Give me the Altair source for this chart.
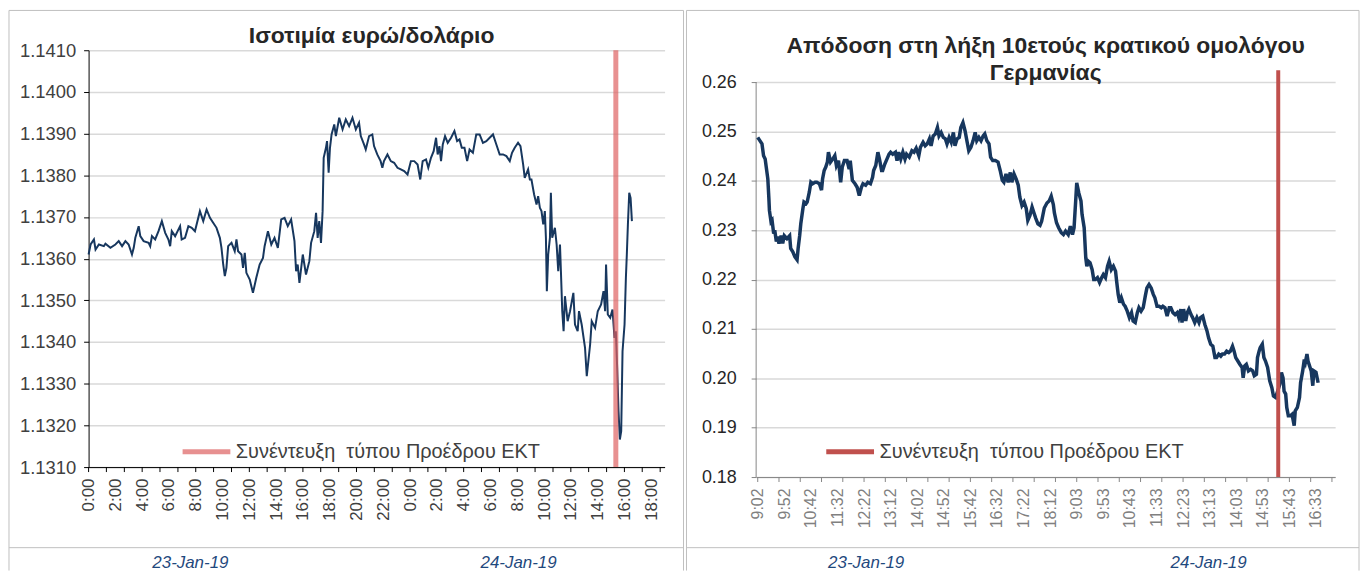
import json
import altair as alt
import pandas as pd

FONT = "Liberation Sans"
NAVY = "#17375e"

# ---------------- texts ----------------
eur_title = "Ισοτιμία ευρώ/δολάριο"
bund_title = ["Απόδοση στη λήξη 10ετούς κρατικού ομολόγου", "Γερμανίας"]
legend_label = "Συνέντευξη\u00a0 τύπου Προέδρου ΕΚΤ"
date_labels = ["23-Jan-19", "24-Jan-19"]

# ---------------- EUR/USD (hours since 23-Jan-19 0:00) ----------------
eur_hours = [
    0.00, 0.15, 0.40, 0.52, 0.77, 1.14, 1.26, 1.63, 2.00, 2.25, 2.50, 2.75, 2.99, 3.24, 3.37, 3.49,
    3.74, 3.86, 4.11, 4.48, 4.60, 4.73, 4.97, 5.22, 5.47, 5.72, 5.96, 6.09, 6.21, 6.46, 6.83, 6.95,
    7.20, 7.45, 7.70, 7.94, 8.31, 8.56, 8.81, 9.06, 9.30, 9.55, 9.80, 9.92, 10.05, 10.17, 10.29, 10.42,
    10.67, 10.91, 11.04, 11.16, 11.41, 11.53, 11.66, 11.78, 12.03, 12.27, 12.52, 12.77, 13.02, 13.14,
    13.39, 13.64, 13.88, 14.13, 14.38, 14.63, 14.87, 15.12, 15.37, 15.49, 15.61, 15.74, 15.99, 16.23,
    16.48, 16.61, 16.85, 16.98, 17.10, 17.22, 17.35, 17.47, 17.55, 17.72, 17.80, 17.92, 18.02, 18.14,
    18.34, 18.46, 18.71, 18.96, 19.20, 19.45, 19.70, 19.95, 20.19, 20.32, 20.56, 20.69, 20.94, 21.18,
    21.31, 21.55, 21.80, 21.93, 22.05, 22.31, 22.56, 22.81, 23.06, 23.31, 23.56, 23.81, 24.06, 24.31,
    24.56, 24.76, 24.94, 25.19, 25.36, 25.56, 25.76, 25.94, 26.06, 26.19, 26.31, 26.44, 26.61, 26.81,
    27.06, 27.31, 27.51, 27.69, 27.86, 28.06, 28.26, 28.44, 28.69, 28.94, 29.19, 29.44, 29.69, 29.94,
    30.19, 30.44, 30.69, 30.94, 31.19, 31.44, 31.61, 31.81, 32.06, 32.24, 32.44, 32.56, 32.81, 32.94,
    33.06, 33.26, 33.44, 33.56, 33.69, 33.81, 33.94, 34.06, 34.14, 34.21, 34.31, 34.44, 34.51, 34.61,
    34.81, 34.94, 35.06, 35.19, 35.26, 35.36, 35.46, 35.56, 35.76, 35.94, 36.19, 36.31, 36.51, 36.61,
    36.81, 37.06, 37.19, 37.44, 37.56, 37.81, 38.01, 38.26, 38.44, 38.56, 38.63, 38.76, 38.94, 39.11,
    39.26, 39.36, 39.46, 39.56, 39.66, 39.76, 39.86, 40.01, 40.11, 40.18, 40.26, 40.36, 40.46, 40.56,
]
eur_values = [
    1.13610, 1.13634, 1.13646, 1.13622, 1.13634, 1.13630, 1.13636, 1.13626, 1.13634, 1.13642, 1.13630,
    1.13642, 1.13634, 1.13610, 1.13626, 1.13650, 1.13678, 1.13654, 1.13642, 1.13638, 1.13630, 1.13654,
    1.13646, 1.13666, 1.13690, 1.13662, 1.13646, 1.13630, 1.13666, 1.13654, 1.13678, 1.13646, 1.13650,
    1.13678, 1.13674, 1.13666, 1.13714, 1.13690, 1.13718, 1.13698, 1.13686, 1.13674, 1.13650, 1.13626,
    1.13586, 1.13558, 1.13578, 1.13630, 1.13638, 1.13618, 1.13646, 1.13618, 1.13610, 1.13578, 1.13614,
    1.13566, 1.13550, 1.13518, 1.13554, 1.13586, 1.13602, 1.13630, 1.13666, 1.13634, 1.13650, 1.13626,
    1.13694, 1.13698, 1.13678, 1.13694, 1.13642, 1.13570, 1.13586, 1.13542, 1.13610, 1.13562, 1.13594,
    1.13638, 1.13666, 1.13710, 1.13650, 1.13690, 1.13638, 1.13714, 1.13842, 1.13866, 1.13882, 1.13806,
    1.13866, 1.13898, 1.13922, 1.13894, 1.13938, 1.13910, 1.13934, 1.13918, 1.13938, 1.13910, 1.13926,
    1.13894, 1.13874, 1.13862, 1.13894, 1.13898, 1.13870, 1.13850, 1.13834, 1.13818, 1.13834, 1.13850,
    1.13834, 1.13830, 1.13818, 1.13814, 1.13810, 1.13802, 1.13834, 1.13834, 1.13826, 1.13790, 1.13834,
    1.13838, 1.13818, 1.13842, 1.13858, 1.13890, 1.13850, 1.13870, 1.13834, 1.13874, 1.13894, 1.13878,
    1.13890, 1.13906, 1.13882, 1.13886, 1.13866, 1.13866, 1.13834, 1.13862, 1.13854, 1.13898, 1.13898,
    1.13878, 1.13882, 1.13890, 1.13898, 1.13874, 1.13850, 1.13850, 1.13846, 1.13834, 1.13854, 1.13866,
    1.13878, 1.13870, 1.13826, 1.13794, 1.13814, 1.13790, 1.13790, 1.13754, 1.13730, 1.13750, 1.13722,
    1.13714, 1.13682, 1.13714, 1.13650, 1.13522, 1.13610, 1.13650, 1.13758, 1.13650, 1.13674, 1.13634,
    1.13570, 1.13634, 1.13570, 1.13474, 1.13426, 1.13510, 1.13450, 1.13474, 1.13518, 1.13442, 1.13426,
    1.13474, 1.13442, 1.13386, 1.13318, 1.13394, 1.13450, 1.13434, 1.13474, 1.13490, 1.13522, 1.13474,
    1.13586, 1.13466, 1.13458, 1.13478, 1.13410, 1.13426, 1.13338, 1.13234, 1.13166, 1.13186, 1.13378,
    1.13442, 1.13554, 1.13610, 1.13682, 1.13758, 1.13746, 1.13690,
]
eur_x_domain = [0, 43]
eur_label_hours = [0, 2, 4, 6, 8, 10, 12, 14, 16, 18, 20, 22, 24, 26, 28, 30, 32, 34, 36, 38, 40, 42]
eur_tick_labels = ["0:00", "2:00", "4:00", "6:00", "8:00", "10:00", "12:00", "14:00", "16:00", "18:00",
                   "20:00", "22:00", "0:00", "2:00", "4:00", "6:00", "8:00", "10:00", "12:00", "14:00",
                   "16:00", "18:00"]
eur_tick_marks = [0, 1.33, 2.67, 4, 5.33, 6.67, 8, 9.33, 10.67, 12, 13.33, 14.67, 16, 17.33, 18.67,
                  20, 21.33, 22.67, 24, 25.33, 26.67, 28, 29.33, 30.67, 32, 33.33, 34.67, 36, 37.33,
                  38.67, 40, 41.33, 42.67]
eur_y_domain = [1.1310, 1.1410]
eur_y_ticks = [1.1310, 1.1320, 1.1330, 1.1340, 1.1350, 1.1360, 1.1370, 1.1380, 1.1390, 1.1400, 1.1410]
eur_ecb_hour = [39.36]
eur_date_pos = [7.6, 32.1]

# ---------------- Bund 10y yield (index of intraday observations) ----------------
bund_index = [
    0, 8, 11, 14, 16, 19, 21, 22, 25, 27, 30, 32, 35, 37, 40, 44, 47, 50, 55, 60, 62, 66, 70, 74, 76, 79,
    81, 85, 87, 91, 93, 97, 100, 103, 108, 111, 116, 120, 122, 125, 128, 131, 133, 137, 141, 145, 148,
    152, 156, 159, 163, 168, 172, 174, 178, 183, 187, 191, 195, 198, 203, 207, 212, 216, 218, 222, 226,
    229, 233, 235, 239, 243, 247, 250, 254, 259, 262, 265, 269, 273, 277, 280, 285, 290, 294, 298, 303,
    306, 311, 315, 319, 323, 326, 330, 334, 338, 341, 345, 349, 353, 356, 360, 364, 368, 371, 375, 379,
    382, 386, 390, 394, 397, 401, 405, 409, 412, 416, 420, 424, 427, 431, 435, 438, 442, 447, 452, 456,
    460, 463, 467, 471, 475, 478, 482, 486, 490, 493, 497, 501, 505, 508, 512, 516, 519, 523, 527, 531,
    534, 539, 544, 548, 552, 556, 558, 562, 566, 571, 575, 579, 584, 588, 592, 595, 598, 600, 604, 608,
    610, 614, 617, 619, 622, 625, 629, 632, 635, 639, 643, 647, 650, 654, 658, 661, 665, 669, 673, 675,
    678, 681, 684, 688, 691, 695, 699, 703, 706, 710, 714, 717, 721, 725, 729, 732, 736, 740, 744, 747,
    751, 755, 759, 762, 766, 770, 774, 777, 781, 785, 789, 792, 796, 798, 801, 805, 808, 811, 815, 818,
    822, 826, 830, 833, 837, 841, 845, 848, 852, 856, 860, 863, 867, 871, 874, 878, 882, 886, 889, 893,
    896, 899, 903, 907, 911, 913, 916, 919, 923, 927, 931, 934, 938, 940, 943, 945, 949, 952, 955, 959,
    963, 967, 970, 974, 978, 982, 985, 988, 990, 993, 995, 998, 1002, 1005, 1009, 1011, 1015, 1019,
    1021, 1025, 1028, 1030, 1033, 1035, 1038, 1041, 1044, 1046, 1050, 1054,
]
bund_values = [
    0.2488, 0.2475, 0.2451, 0.2444, 0.2428, 0.2404, 0.2364, 0.2340, 0.2317, 0.2320, 0.2293, 0.2300,
    0.2277, 0.2287, 0.2273, 0.2289, 0.2273, 0.2289, 0.2283, 0.2289, 0.2263, 0.2256, 0.2246, 0.2240,
    0.2263, 0.2290, 0.2313, 0.2344, 0.2357, 0.2354, 0.2357, 0.2377, 0.2397, 0.2394, 0.2397, 0.2397,
    0.2394, 0.2381, 0.2404, 0.2421, 0.2428, 0.2438, 0.2458, 0.2438, 0.2444, 0.2451, 0.2431, 0.2441,
    0.2397, 0.2428, 0.2441, 0.2441, 0.2424, 0.2441, 0.2401, 0.2394, 0.2387, 0.2370, 0.2387, 0.2394,
    0.2391, 0.2397, 0.2394, 0.2407, 0.2421, 0.2431, 0.2458, 0.2444, 0.2421, 0.2421, 0.2434, 0.2444,
    0.2454, 0.2458, 0.2454, 0.2458, 0.2441, 0.2458, 0.2444, 0.2458, 0.2444, 0.2454, 0.2448, 0.2461,
    0.2458, 0.2466, 0.2451, 0.2468, 0.2478, 0.2471, 0.2475, 0.2485, 0.2471, 0.2491, 0.2495, 0.2508,
    0.2491, 0.2498, 0.2488, 0.2485, 0.2475, 0.2488, 0.2478, 0.2498, 0.2471, 0.2485, 0.2488, 0.2508,
    0.2518, 0.2501, 0.2478, 0.2461, 0.2468, 0.2481, 0.2498, 0.2481, 0.2488, 0.2481, 0.2491, 0.2495,
    0.2481, 0.2475, 0.2448, 0.2441, 0.2441, 0.2438, 0.2421, 0.2401, 0.2397, 0.2414, 0.2397, 0.2417,
    0.2397, 0.2414, 0.2404, 0.2391, 0.2367, 0.2350, 0.2357, 0.2344, 0.2320, 0.2330, 0.2347, 0.2337,
    0.2324, 0.2313, 0.2310, 0.2318, 0.2345, 0.2355, 0.2359, 0.2369, 0.2352, 0.2335, 0.2315, 0.2305,
    0.2295, 0.2291, 0.2298, 0.2291, 0.2308, 0.2291, 0.2305, 0.2359, 0.2396, 0.2375, 0.2359, 0.2332,
    0.2305, 0.2244, 0.2227, 0.2237, 0.2234, 0.2220, 0.2200, 0.2200, 0.2204, 0.2194, 0.2204, 0.2210,
    0.2204, 0.2227, 0.2237, 0.2220, 0.2227, 0.2217, 0.2197, 0.2170, 0.2153, 0.2163, 0.2150, 0.2146,
    0.2136, 0.2123, 0.2133, 0.2116, 0.2113, 0.2133, 0.2143, 0.2136, 0.2143, 0.2167, 0.2183, 0.2190,
    0.2183, 0.2170, 0.2163, 0.2146, 0.2146, 0.2143, 0.2146, 0.2143, 0.2126, 0.2143, 0.2143, 0.2133,
    0.2129, 0.2133, 0.2123, 0.2140, 0.2113, 0.2140, 0.2116, 0.2133, 0.2140, 0.2129, 0.2123, 0.2113,
    0.2123, 0.2113, 0.2123, 0.2126, 0.2109, 0.2096, 0.2082, 0.2069, 0.2065, 0.2042, 0.2042, 0.2049,
    0.2045, 0.2049, 0.2049, 0.2055, 0.2052, 0.2055, 0.2065, 0.2055, 0.2042, 0.2035, 0.2028, 0.2022,
    0.2001, 0.2025, 0.2028, 0.2015, 0.2018, 0.2015, 0.2005, 0.2008, 0.2042, 0.2055, 0.2062, 0.2069,
    0.2042, 0.2035, 0.2022, 0.1995, 0.1981, 0.1964, 0.1961, 0.1974, 0.1988, 0.2012, 0.2001, 0.1974,
    0.1968, 0.1941, 0.1924, 0.1924, 0.1927, 0.1904, 0.1934, 0.1941, 0.1961, 0.1991, 0.2015, 0.2038,
    0.2032, 0.2049, 0.2035, 0.2025, 0.2015, 0.1985, 0.2015, 0.2012, 0.1991,
]
bund_x_domain = [-3, 1086]
bund_label_index = [0, 50, 100, 150, 200, 250, 300, 350, 400, 450, 500, 550, 600, 650, 700, 750, 800,
                    850, 900, 950, 1000, 1050]
bund_tick_labels = ["9:02", "9:52", "10:42", "11:32", "12:22", "13:12", "14:02", "14:52", "15:42",
                    "16:32", "17:22", "18:12", "9:03", "9:53", "10:43", "11:33", "12:23", "13:13",
                    "14:03", "14:53", "15:43", "16:33"]
bund_tick_marks = [0, 40, 80, 120, 160, 200, 240, 280, 320, 360, 400, 440, 480, 520, 560, 600, 640,
                   680, 720, 760, 800, 840, 880, 920, 960, 1000, 1040, 1080]
bund_y_domain = [0.18, 0.26645]
bund_y_ticks = [0.18, 0.19, 0.20, 0.21, 0.22, 0.23, 0.24, 0.25, 0.26]
bund_ecb_index = [979]
bund_ecb_span = [0.18, 0.2624]
bund_date_pos = [204, 848]


def label_expr(step, labels):
    return f"{json.dumps(labels)}[round(datum.value / {step})]"


def frame_layers(left, right, top, sep, bottom):
    d = pd.DataFrame({"k": [0]})
    c = "#bfbfbf"
    vl = alt.Chart(d).mark_rule(color=c, strokeWidth=1, clip=False).encode(
        x=alt.value(left), y=alt.value(top), y2=alt.value(bottom))
    vr = alt.Chart(d).mark_rule(color=c, strokeWidth=1, clip=False).encode(
        x=alt.value(right), y=alt.value(top), y2=alt.value(bottom))
    ht = alt.Chart(d).mark_rule(color=c, strokeWidth=1, clip=False).encode(
        x=alt.value(left), x2=alt.value(right), y=alt.value(top))
    hs = alt.Chart(d).mark_rule(color=c, strokeWidth=1, clip=False).encode(
        x=alt.value(left), x2=alt.value(right), y=alt.value(sep))
    return [vl, vr, ht, hs]


def ecb_legend(x, y, opacity):
    return alt.Legend(orient="none", legendX=x, legendY=y, title=None,
                      symbolType="stroke", symbolSize=2304, symbolStrokeWidth=5,
                      symbolOpacity=opacity, labelFont=FONT, labelFontSize=20,
                      labelColor="#404040", labelLimit=700, labelOffset=3, padding=0)


def tick_layer(field, values, height, color):
    d = pd.DataFrame({field: values})
    return alt.Chart(d).mark_rule(color=color, strokeWidth=1, clip=False).encode(
        x=alt.X(f"{field}:Q"), y=alt.value(height), y2=alt.value(height + 5))


# ---------------- left panel ----------------
LW, LH = 579, 419
eur_df = pd.DataFrame({"hour": eur_hours, "value": eur_values})
x_eur = alt.X("hour:Q", scale=alt.Scale(domain=eur_x_domain, nice=False, zero=False),
              axis=alt.Axis(values=eur_label_hours, tickCount=200,
                            labelExpr=label_expr(2, eur_tick_labels),
                            labelAngle=-90, labelAlign="right", labelBaseline="middle",
                            labelFont=FONT, labelFontSize=17, labelColor="#404040", labelPadding=11,
                            domainColor="#000000", ticks=False,
                            grid=False, title=None, labelOverlap=False))
y_eur = alt.Y("value:Q", scale=alt.Scale(domain=eur_y_domain, nice=False, zero=False),
              axis=alt.Axis(values=eur_y_ticks, tickCount=200, format=".4f", labelFont=FONT,
                            labelFontSize=18.5, labelColor="#404040", labelPadding=8,
                            domainColor="#000000", tickColor="#000000", tickSize=5, grid=True,
                            gridColor="#d9d9d9", gridWidth=1.5, title=None, labelOverlap=False))
eur_line = alt.Chart(eur_df).mark_line(color=NAVY, strokeWidth=2).encode(x=x_eur, y=y_eur)
eur_ticks = tick_layer("hour", eur_tick_marks, LH, "#000000")

eur_ecb_df = pd.DataFrame({"hour": eur_ecb_hour, "event": [legend_label]})
eur_ecb = alt.Chart(eur_ecb_df).mark_rule(strokeWidth=5, opacity=0.7).encode(
    x=alt.X("hour:Q"),
    color=alt.Color("event:N", scale=alt.Scale(domain=[legend_label], range=["#de6262"]),
                    legend=ecb_legend(92, 377, 0.7)))

eur_dates_df = pd.DataFrame({"hour": eur_date_pos, "label": date_labels})
eur_dates = alt.Chart(eur_dates_df).mark_text(font=FONT, fontSize=17, fontStyle="italic",
                                              color="#1f497d", baseline="alphabetic",
                                              clip=False).encode(
    x="hour:Q", y=alt.value(520), text="label:N")

left_panel = alt.layer(
    eur_line, eur_ticks, eur_ecb, eur_dates, *frame_layers(-80, 598, -40, 500, 523)
).properties(
    width=LW, height=LH,
    title=alt.TitleParams(eur_title, font=FONT, fontSize=23, fontWeight="bold", color="#262626",
                          anchor="middle", frame="group", offset=-38, dx=-5),
)

# ---------------- right panel ----------------
RW, RH = 582, 429
bund_df = pd.DataFrame({"idx": bund_index, "value": bund_values})
x_bund = alt.X("idx:Q", scale=alt.Scale(domain=bund_x_domain, nice=False, zero=False),
               axis=alt.Axis(values=bund_label_index, tickCount=200,
                             labelExpr=label_expr(50, bund_tick_labels),
                             labelAngle=-90, labelAlign="right", labelBaseline="middle",
                             labelFont=FONT, labelFontSize=16, labelColor="#808080", labelPadding=11,
                             domainColor="#868686", ticks=False,
                             grid=False, title=None, labelOverlap=False))
y_bund = alt.Y("value:Q", scale=alt.Scale(domain=bund_y_domain, nice=False, zero=False),
               axis=alt.Axis(values=bund_y_ticks, tickCount=200, format=".2f", labelFont=FONT,
                             labelFontSize=18, labelColor="#262626", labelPadding=15, domain=False,
                             tickColor="#868686", tickSize=5, grid=True, gridColor="#d9d9d9",
                             gridWidth=1.5, title=None, labelOverlap=False))
bund_line = alt.Chart(bund_df).mark_line(color=NAVY, strokeWidth=3.5).encode(x=x_bund, y=y_bund)
bund_ticks = tick_layer("idx", bund_tick_marks, RH, "#868686")

bund_axis_df = pd.DataFrame({"lo": [bund_y_ticks[0]], "hi": [bund_y_ticks[-1]]})
bund_axis = alt.Chart(bund_axis_df).mark_rule(color="#868686", strokeWidth=1).encode(
    x=alt.value(0), y="lo:Q", y2="hi:Q")

bund_ecb_df = pd.DataFrame({"idx": bund_ecb_index, "lo": [bund_ecb_span[0]],
                            "hi": [bund_ecb_span[1]], "event": [legend_label]})
bund_ecb = alt.Chart(bund_ecb_df).mark_rule(strokeWidth=4).encode(
    x=alt.X("idx:Q"), y="lo:Q", y2="hi:Q",
    color=alt.Color("event:N", scale=alt.Scale(domain=[legend_label], range=["#c0504d"]),
                    legend=ecb_legend(68, 377, 1)))

bund_dates_df = pd.DataFrame({"idx": bund_date_pos, "label": date_labels})
bund_dates = alt.Chart(bund_dates_df).mark_text(font=FONT, fontSize=17, fontStyle="italic",
                                                color="#1f497d", baseline="alphabetic",
                                                clip=False).encode(
    x="idx:Q", y=alt.value(520), text="label:N")

right_panel = alt.layer(
    bund_axis, bund_line, bund_ticks, bund_ecb, bund_dates, *frame_layers(-70, 606, -40, 500, 523)
).properties(
    width=RW, height=RH,
    title=alt.TitleParams(bund_title, font=FONT, fontSize=23, fontWeight="bold", color="#262626",
                          anchor="middle", frame="group", offset=-75, lineHeight=27),
)

chart = alt.hconcat(left_panel, right_panel, spacing=1).resolve_scale(
    color="independent", x="independent", y="independent"
).resolve_legend(color="independent").properties(
    padding=0, background="white"
).configure_view(stroke="transparent")

chart.save("out.html", embed_options={"renderer": "svg", "actions": False})
